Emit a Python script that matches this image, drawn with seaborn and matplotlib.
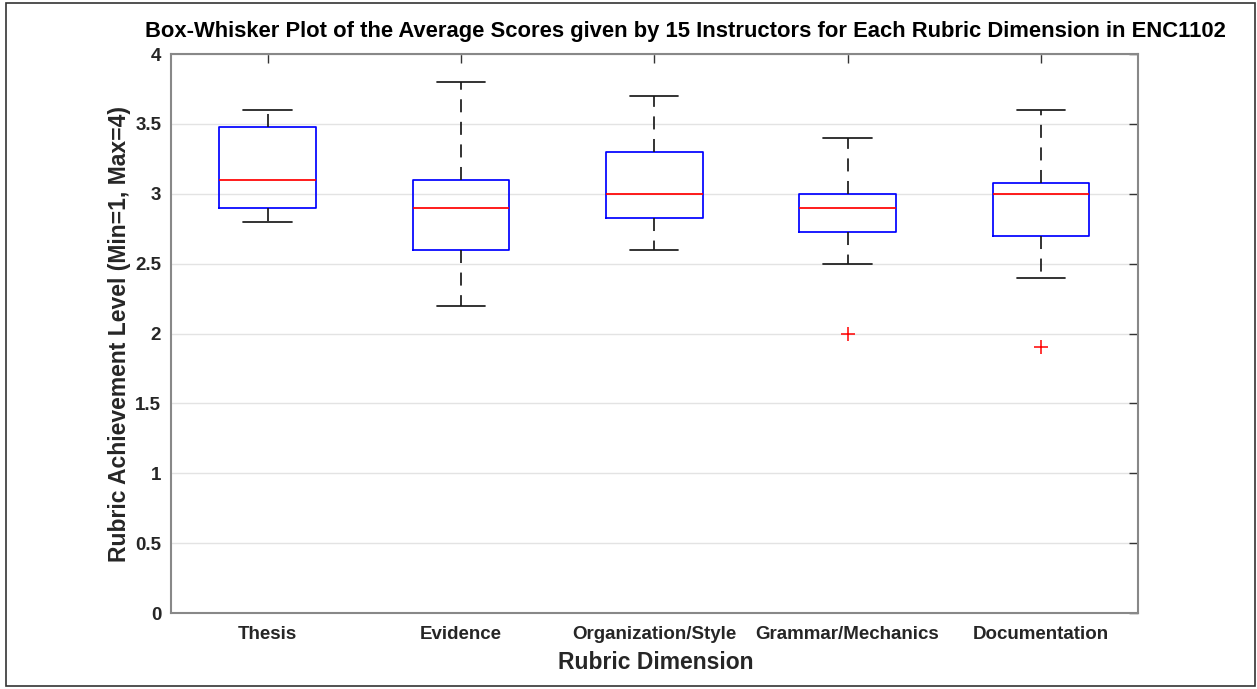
import matplotlib
matplotlib.use("Agg")
import matplotlib.pyplot as plt
from matplotlib.patches import Rectangle
import pandas as pd
import seaborn as sns

# Five-number summaries of the instructors' average scores per rubric dimension
dimensions = ["Thesis", "Evidence", "Organization/Style", "Grammar/Mechanics", "Documentation"]
whisker_low = [2.8, 2.2, 2.6, 2.5, 2.4]
quartile_1 = [2.9, 2.6, 2.825, 2.725, 2.7]
median = [3.1, 2.9, 3.0, 2.9, 3.0]
quartile_3 = [3.475, 3.1, 3.3, 3.0, 3.075]
whisker_high = [3.6, 3.8, 3.7, 3.4, 3.6]

# Points beyond the whiskers
outlier_dimension = ["Grammar/Mechanics", "Documentation"]
outlier_score = [2.0, 1.9]

y_ticks = [0, 0.5, 1, 1.5, 2, 2.5, 3, 3.5, 4]
y_tick_labels = ["0", "0.5", "1", "1.5", "2", "2.5", "3", "3.5", "4"]

summary = pd.DataFrame({
    "dimension": [d for d in dimensions for _ in range(5)],
    "score": [v for row in zip(whisker_low, quartile_1, median, quartile_3, whisker_high) for v in row],
})
outliers = pd.DataFrame({"dimension": outlier_dimension, "score": outlier_score})

sns.set_theme(style="white")
plt.rcParams["font.family"] = ["Liberation Sans", "DejaVu Sans"]
plt.rcParams["lines.scale_dashes"] = True

fig = plt.figure(figsize=(12.57, 6.89), dpi=100)
ax = fig.add_axes([0.136, 0.1103, 0.769, 0.8113])

sns.boxplot(
    data=summary, x="dimension", y="score", order=dimensions,
    whis=(0, 100), width=0.5, fill=False, showfliers=False, ax=ax,
    boxprops=dict(color="#0000ff", linewidth=1.25),
    medianprops=dict(color="#ff0000", linewidth=1.25),
    whiskerprops=dict(color="#1a1a1a", linewidth=1.25, linestyle=(0, (7.5, 5.5))),
    capprops=dict(color="#1a1a1a", linewidth=1.25),
)
sns.stripplot(
    data=outliers, x="dimension", y="score", order=dimensions,
    jitter=False, marker="+", color="#ff0000", size=10, linewidth=1.1, ax=ax,
)

ax.set_xlim(-0.5, 4.5)
ax.set_ylim(0, 4)
ax.set_yticks(y_ticks)
ax.set_yticklabels(y_tick_labels)
ax.yaxis.grid(True, color="#e3e3e3", linewidth=1.0)
ax.xaxis.grid(False)
ax.set_axisbelow(True)

for side in ["left", "right", "top", "bottom"]:
    ax.spines[side].set_visible(True)
    ax.spines[side].set_color("#888888")
    ax.spines[side].set_linewidth(1.5)

ax.tick_params(axis="both", direction="in", length=6.5, width=1.0, color="#333333",
               top=True, right=True, labelsize=13.5, labelcolor="#262626", pad=7)
ax.tick_params(axis="x", pad=9)
for lab in ax.get_xticklabels() + ax.get_yticklabels():
    lab.set_fontweight("bold")

ax.set_xlabel("Rubric Dimension", fontsize=16.5, fontweight="bold", color="#262626")
ax.set_ylabel("Rubric Achievement Level (Min=1, Max=4)", fontsize=16.5,
              fontweight="bold", color="#262626")
ax.xaxis.set_label_coords(0.502, -0.068)
ax.yaxis.set_label_coords(-0.041, 0.5)

fig.text(0.545, 0.955,
         "Box-Whisker Plot of the Average Scores given by 15 Instructors for Each Rubric Dimension in ENC1102",
         ha="center", va="center", fontsize=15.8, fontweight="bold", color="#000000")

fig.patches.append(Rectangle((0.0048, 0.0044), 0.9936, 0.9912, transform=fig.transFigure,
                             fill=False, edgecolor="#333333", linewidth=1.2))

fig.savefig("out.png", dpi=100, facecolor="white")
